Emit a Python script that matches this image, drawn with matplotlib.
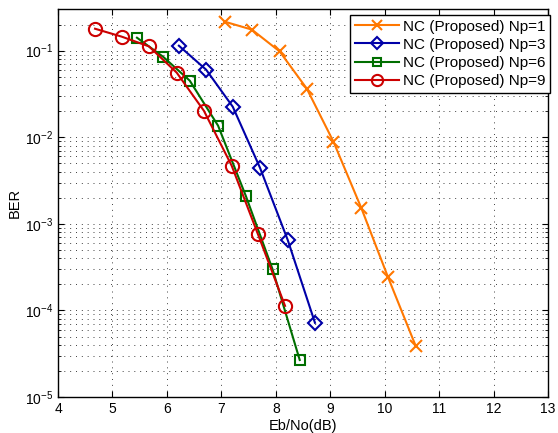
import matplotlib
matplotlib.use("Agg")
import matplotlib.pyplot as plt
from matplotlib.ticker import LogLocator, FixedLocator, NullFormatter

plt.rcParams['font.family'] = ['Liberation Sans', 'DejaVu Sans']

x_np1 = [7.06, 7.56, 8.07, 8.57, 9.06, 9.57, 10.06, 10.57]
ber_np1 = [0.216, 0.175, 0.098, 0.0364, 0.00887, 0.00153, 2.44e-4, 3.9e-5]

x_np3 = [6.22, 6.72, 7.21, 7.71, 8.22, 8.72]
ber_np3 = [0.114, 0.0603, 0.0225, 0.00444, 6.5e-4, 7.2e-5]

x_np6 = [5.45, 5.93, 6.42, 6.94, 7.45, 7.94, 8.44]
ber_np6 = [0.141, 0.085, 0.045, 0.0136, 0.0021, 3.0e-4, 2.68e-5]

x_np9 = [4.68, 5.17, 5.67, 6.18, 6.68, 7.19, 7.67, 8.17]
ber_np9 = [0.179, 0.145, 0.112, 0.0557, 0.0202, 0.00469, 7.66e-4, 1.13e-4]

labels = ['NC (Proposed) Np=1', 'NC (Proposed) Np=3',
          'NC (Proposed) Np=6', 'NC (Proposed) Np=9']
colors = ['#FF7700', '#0000A8', '#006E00', '#CC0000']
xticks = [4, 5, 6, 7, 8, 9, 10, 11, 12, 13]

fig = plt.figure(figsize=(5.58, 4.33), dpi=100)
ax = fig.add_axes([0.104, 0.083, 0.878, 0.8955])

ax.semilogy(x_np1, ber_np1, '-x', color=colors[0], lw=1.5, ms=8, mew=1.5, label=labels[0])
ax.semilogy(x_np3, ber_np3, '-D', color=colors[1], lw=1.5, ms=7.5, mew=1.5, mfc='none', label=labels[1])
ax.semilogy(x_np6, ber_np6, '-s', color=colors[2], lw=1.5, ms=7.5, mew=1.5, mfc='none', label=labels[2])
ax.semilogy(x_np9, ber_np9, '-o', color=colors[3], lw=1.5, ms=9.5, mew=1.5, mfc='none', label=labels[3])

ax.set_xlim(4, 13)
ax.set_ylim(1e-5, 0.3)
ax.set_xticks(xticks)
ax.xaxis.set_minor_locator(FixedLocator([]))
ax.yaxis.set_major_locator(LogLocator(base=10, numticks=10))
ax.yaxis.set_minor_locator(LogLocator(base=10, subs=range(2, 10), numticks=20))
ax.yaxis.set_minor_formatter(NullFormatter())

ax.grid(True, which='major', color='0.25', linestyle=(0, (1, 5)), linewidth=0.7)
ax.grid(True, which='minor', axis='y', color='0.25', linestyle=(0, (1, 5)), linewidth=0.7)

ax.tick_params(which='both', direction='in', top=True, right=True, labelsize=10, length=4)
ax.tick_params(which='minor', length=2)
for s in ax.spines.values():
    s.set_linewidth(1.0)

ax.set_xlabel('Eb/No(dB)', fontsize=10.5, labelpad=2)
ax.set_ylabel('BER', fontsize=10.5, labelpad=2)

leg = ax.legend(loc='upper right', bbox_to_anchor=(1.004, 0.985), fontsize=11,
                fancybox=False, framealpha=1, edgecolor='black', borderpad=0.3,
                labelspacing=0.27, handlelength=2.9, handletextpad=0.25,
                borderaxespad=0.0, markerscale=0.85)
leg.get_frame().set_linewidth(1.0)

fig.savefig('out.png', dpi=100)
